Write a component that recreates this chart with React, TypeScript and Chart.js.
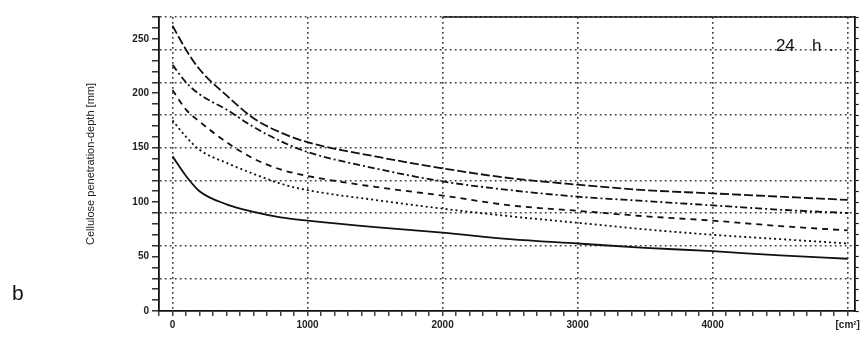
import React, { useEffect, useRef } from "react";
import { Chart, registerables } from "chart.js";

Chart.register(...registerables);

// ---- data ----
const xValues = [0, 100, 200, 400, 600, 800, 1000, 1500, 2000, 2500, 3000, 3500, 4000, 4500, 5000];
const seriesTop = [262, 240, 222, 198, 177, 164, 155, 142, 131, 122, 116, 111, 108, 105, 102];
const seriesSecond = [226, 210, 199, 185, 169, 156, 146, 131, 119, 111, 105, 101, 97, 93, 90];
const seriesThird = [203, 185, 174, 155, 140, 130, 124, 114, 106, 97, 92, 87, 83, 78, 74];
const seriesFourth = [175, 160, 148, 136, 126, 117, 111, 102, 94, 87, 81, 75, 70, 66, 62];
const seriesBottom = [142, 124, 110, 98, 91, 86, 83, 77, 72, 66, 62, 58, 55, 51, 48];

const xTickLabels = ["0", "1000", "2000", "3000", "4000", "[cm²]"];
const xTickValues = [0, 1000, 2000, 3000, 4000, 5000];
const yTickLabelValues = [0, 50, 100, 150, 200, 250];
const yAxisTitle = "Cellulose penetration-depth [mm]";
const annotationText = ["24", "h", "."];
const annotationAt = { x: 4468, y: 243 };
const panelLetter = "b";

const X_MIN = -100;
const X_MAX = 5051;
const Y_MAX = 270;

const GRID = "#404040";
const FONT = '"Liberation Sans", Arial, sans-serif';

const annotPlugin = {
  id: "annot",
  afterDraw(chart: any) {
    const { ctx, scales } = chart;
    const x = scales.x;
    const y = scales.y;
    ctx.save();
    ctx.strokeStyle = "#111";
    ctx.lineWidth = 1.6;
    ctx.beginPath();
    const ty = y.getPixelForValue(Y_MAX);
    ctx.moveTo(x.getPixelForValue(2000), ty);
    ctx.lineTo(x.getPixelForValue(X_MAX), ty);
    ctx.stroke();
    ctx.fillStyle = "#111";
    ctx.font = `17px ${FONT}`;
    ctx.textBaseline = "middle";
    const px = x.getPixelForValue(annotationAt.x);
    const py = y.getPixelForValue(annotationAt.y);
    ctx.fillText(annotationText[0], px, py);
    ctx.fillText(annotationText[1], px + 36, py);
    ctx.fillText(annotationText[2], px + 53, py);
    ctx.restore();
  },
};

function mk(label: string, values: number[], dash: number[]) {
  return {
    label,
    data: xValues.map((xv, i) => ({ x: xv, y: values[i] })),
    borderColor: "#111",
    borderWidth: 1.8,
    borderDash: dash,
    pointRadius: 0,
    fill: false,
    cubicInterpolationMode: "monotone" as const,
  };
}

export default function App() {
  const ref = useRef<HTMLCanvasElement | null>(null);

  useEffect(() => {
    if (!ref.current) return;
    const chart = new Chart(ref.current, {
      type: "line",
      data: {
        datasets: [
          mk("top", seriesTop, [9, 3]),
          mk("second", seriesSecond, [7, 3, 2, 3]),
          mk("third", seriesThird, [6, 5]),
          mk("fourth", seriesFourth, [2, 3]),
          mk("bottom", seriesBottom, []),
        ],
      },
      options: {
        animation: false,
        responsive: false,
        maintainAspectRatio: false,
        layout: { padding: { left: 0, right: 0, top: 17, bottom: 0 } },
        plugins: { legend: { display: false }, tooltip: { enabled: false } },
        scales: {
          x: {
            type: "linear",
            min: X_MIN,
            max: X_MAX,
            afterBuildTicks: (scale: any) => {
              const t = [];
              for (let v = -100; v <= 5000; v += 100) t.push({ value: v });
              scale.ticks = t;
            },
            afterFit: (scale: any) => {
              scale.height = 36;
            },
            ticks: {
              autoSkip: false,
              maxRotation: 0,
              minRotation: 0,
              padding: 3,
              color: "#222",
              font: { size: 10, weight: "bold", family: FONT },
              callback: (v: any) => {
                const i = xTickValues.indexOf(Number(v));
                return i >= 0 ? xTickLabels[i] : "";
              },
            },
            grid: {
              color: (c: any) => {
                const v = c.tick ? c.tick.value : NaN;
                return v >= 0 && v % 1000 === 0 ? GRID : "rgba(0,0,0,0)";
              },
              lineWidth: 1.6,
              tickColor: "#111",
              tickLength: 5,
              tickWidth: 1.2,
              tickBorderDash: [],
            },
            border: { display: true, color: "#111", width: 1.8, dash: [1.8, 3.2] },
          },
          y: {
            type: "linear",
            position: "left",
            min: 0,
            max: Y_MAX,
            afterBuildTicks: (scale: any) => {
              const t = [];
              for (let v = 0; v <= Y_MAX; v += 10) t.push({ value: v });
              scale.ticks = t;
            },
            afterFit: (scale: any) => {
              scale.width = 159;
            },
            ticks: {
              autoSkip: false,
              padding: 3,
              color: "#222",
              font: { size: 10, weight: "bold", family: FONT },
              callback: (v: any) => (yTickLabelValues.includes(Number(v)) ? String(v) : ""),
            },
            grid: {
              color: (c: any) => {
                const v = c.tick ? c.tick.value : NaN;
                return v > 0 && v % 30 === 0 ? GRID : "rgba(0,0,0,0)";
              },
              lineWidth: 1.6,
              tickColor: "#111",
              tickLength: 7,
              tickWidth: 1.3,
              tickBorderDash: [],
            },
            border: { display: true, color: "#111", width: 1.8, dash: [1.8, 3.2] },
            title: {
              display: true,
              text: yAxisTitle,
              color: "#222",
              font: { size: 11, family: FONT },
              padding: { top: 84, bottom: 0 },
            },
          },
          y2: {
            type: "linear",
            position: "right",
            min: 0,
            max: Y_MAX,
            afterBuildTicks: (scale: any) => {
              const t = [];
              for (let v = 0; v <= Y_MAX; v += 10) t.push({ value: v });
              scale.ticks = t;
            },
            afterFit: (scale: any) => {
              scale.width = 6;
            },
            ticks: { display: false },
            grid: {
              drawOnChartArea: false,
              tickColor: "#111",
              tickLength: 4,
              tickWidth: 1.2,
            },
            border: { display: true, color: "#111", width: 1.8 },
          },
        },
      },
      plugins: [annotPlugin],
    } as any);
    return () => chart.destroy();
  }, []);

  return (
    <div style={{ position: "fixed", left: 0, top: 0, width: 863, height: 347, background: "#fff" }}>
      <canvas ref={ref} width={863} height={347} style={{ width: 863, height: 347 }} />
      <span
        style={{
          position: "absolute",
          left: 12,
          top: 282,
          fontFamily: FONT,
          fontSize: 21,
          color: "#111",
          lineHeight: 1,
        }}
      >
        {panelLetter}
      </span>
    </div>
  );
}
